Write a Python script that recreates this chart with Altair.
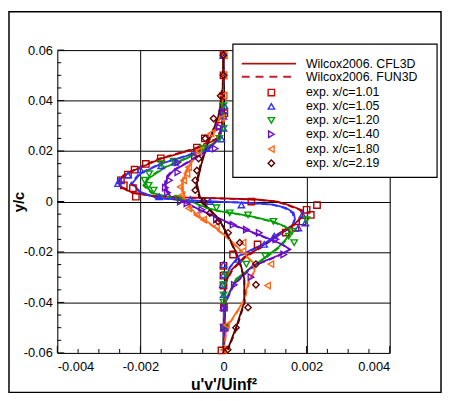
import altair as alt
import pandas as pd

# ---------------- data ----------------
stations = ["1.01", "1.05", "1.20", "1.40", "1.80", "2.19"]
colors = ["#d40000", "#3030ff", "#00a000", "#6a0dc8", "#ff6a1a", "#5c0000"]
line_colors = ["#b00000", "#3030ff", "#00a000", "#6a0dc8", "#ff6a1a", "#5c0000"]
shapes = ["square", "triangle-up", "triangle-down", "triangle-right", "triangle-left", "diamond"]

# experiments
exp101_x = [0.0, 0.0, 0.0, 0.00002, -0.0001, -0.00045, -0.00064, -0.00151, -0.00187, -0.00214, -0.0023, -0.00247, -0.0024, -0.00218, -0.00211, 0.00067, 0.00225, 0.0021, 0.002, 0.0019, 0.00173, 0.0015, 0.00082, 0.00023, 0.0, 0.0, 0.0, 0.00001, 0.00003, -0.00005]
exp101_y = [0.058, 0.050, 0.042, 0.035, 0.030, 0.025, 0.0214, 0.0171, 0.0149, 0.0126, 0.0107, 0.0084, 0.0064, 0.0053, 0.0019, 0.0, -0.0014, -0.0053, -0.0033, -0.0079, -0.0104, -0.0123, -0.017, -0.021, -0.0255, -0.0294, -0.0333, -0.042, -0.050, -0.059]
exp105_x = [0.0, 0.00002, 0.0, 0.0, -0.00005, -0.0004, -0.00116, -0.0015, -0.002, -0.0023, -0.0025, -0.00254, -0.00155, -0.0008, -0.00033, 0.00043, 0.0019, 0.00197, 0.0018, 0.00122, 0.00098, 0.00035, 0.0, 0.0, -0.00002, 0.0, 0.0, 0.00001]
exp105_y = [0.058, 0.038, 0.0338, 0.029, 0.0248, 0.021, 0.0155, 0.0142, 0.0126, 0.0105, 0.0084, 0.0071, 0.0019, 0.0008, 0.0, -0.0014, -0.0053, -0.0085, -0.0105, -0.0137, -0.017, -0.0229, -0.025, -0.029, -0.033, -0.037, -0.042, -0.050]
exp120_x = [0.0, 0.0, 0.0, -0.0001, -0.0005, -0.0012, -0.0015, -0.00179, -0.0019, -0.0018, -0.00168, -0.0011, -0.00017, 0.00015, 0.00059, 0.0012, 0.002, 0.00165, 0.00157, 0.0017, 0.001, 0.00055, 0.00005, 0.0, 0.0, 0.0, 0.0]
exp120_y = [0.038, 0.034, 0.029, 0.025, 0.021, 0.016, 0.015, 0.011, 0.0084, 0.0064, 0.0045, 0.0012, -0.0025, -0.0045, -0.0053, -0.0079, -0.0072, -0.0118, -0.0137, -0.0163, -0.0215, -0.0248, -0.029, -0.033, -0.037, -0.040, -0.050]
exp140_x = [0.0, -0.0001, -0.0002, -0.0007, -0.0011, -0.0011, -0.0013, -0.0014, -0.00135, -0.00104, -0.00088, -0.00052, -0.00017, 0.00023, 0.00055, 0.00086, 0.00126, 0.00145, 0.00066, 0.00026, 0.00002, 0.0]
exp140_y = [0.035, 0.0295, 0.021, 0.018, 0.0155, 0.0116, 0.0084, 0.0055, 0.0035, 0.0, -0.0007, -0.0033, -0.0072, -0.0092, -0.0111, -0.0124, -0.015, -0.021, -0.030, -0.033, -0.042, -0.050]
exp180_x = [0.0, 0.0, 0.0, -0.00005, -0.0003, -0.0006, -0.00084, -0.00088, -0.00096, -0.00104, -0.001, -0.00084, -0.00064, -0.00048, -0.00017, 0.00047, 0.00047, 0.00114, 0.00106, 0.00007, 0.0]
exp180_y = [0.058, 0.050, 0.042, 0.033, 0.027, 0.020, 0.0136, 0.011, 0.0084, 0.0058, 0.0025, -0.0027, -0.0053, -0.0072, -0.0098, -0.0163, -0.0196, -0.0248, -0.0333, -0.049, -0.0588]
exp219_x = [0.0, 0.0, -0.00007, -0.00024, -0.00044, -0.0006, -0.00064, -0.00068, -0.00068, -0.00048, -0.00033, -0.00013, 0.00011, 0.00039, 0.00078, 0.00078, 0.00059, 0.0003, 0.0001]
exp219_y = [0.058, 0.050, 0.0419, 0.0329, 0.025, 0.017, 0.0123, 0.0084, 0.0045, 0.0, -0.0046, -0.0079, -0.0124, -0.0163, -0.0248, -0.033, -0.042, -0.050, -0.0587]

# Wilcox2006 CFL3D
cfl101_y = [0.06, 0.04, 0.03, 0.025, 0.021, 0.017, 0.013, 0.0105, 0.0085, 0.006, 0.0035, 0.0022, 0.0016, 0.0012, 0.0008, 0.0, -0.0014, -0.0035, -0.006, -0.009, -0.013, -0.018, -0.022, -0.027, -0.032, -0.04, -0.06]
cfl101_x = [0.0, -0.00001, -0.00004, -0.00013, -0.00064, -0.0015, -0.00207, -0.00237, -0.0025, -0.00248, -0.0022, -0.0017, -0.001, 0.0, 0.0008, 0.0013, 0.00157, 0.0019, 0.0019, 0.0017, 0.0013, 0.0009, 0.0005, 0.0002, 0.00005, 0.00001, 0.0]
cfl105_y = [0.06, 0.04, 0.03, 0.025, 0.021, 0.018, 0.015, 0.011, 0.0072, 0.0038, 0.0014, 0.0005, 0.0, -0.0005, -0.0012, -0.0025, -0.0045, -0.007, -0.0098, -0.0137, -0.017, -0.0215, -0.026, -0.031, -0.038, -0.06]
cfl105_x = [0.0, -0.00001, -0.00003, -0.0001, -0.0004, -0.0009, -0.0015, -0.002, -0.0022, -0.002, -0.0016, -0.0009, -0.0002, 0.0006, 0.0012, 0.0015, 0.00169, 0.00172, 0.00166, 0.00126, 0.00094, 0.00038, 0.00015, 0.00005, 0.00001, 0.0]
cfl120_y = [0.06, 0.04, 0.03, 0.025, 0.021, 0.017, 0.0136, 0.0092, 0.0064, 0.0033, 0.0019, 0.0006, -0.0012, -0.0025, -0.0038, -0.0048, -0.006, -0.0079, -0.01, -0.0123, -0.015, -0.018, -0.0229, -0.0307, -0.04, -0.06]
cfl120_x = [0.0, -0.00001, -0.00003, -0.0001, -0.0004, -0.0009, -0.0014, -0.0018, -0.0019, -0.0017, -0.00135, -0.00088, -0.0006, -0.0004, -0.0001, 0.0003, 0.0007, 0.00118, 0.0015, 0.0016, 0.0015, 0.00133, 0.00094, 0.0003, 0.00002, 0.0]
cfl140_y = [0.06, 0.04, 0.03, 0.025, 0.02, 0.016, 0.0123, 0.0097, 0.0058, 0.0019, -0.0005, -0.0033, -0.006, -0.0092, -0.0137, -0.017, -0.019, -0.0215, -0.0255, -0.033, -0.04, -0.06]
cfl140_x = [0.0, -0.00001, -0.00003, -0.0001, -0.0004, -0.0008, -0.0012, -0.00135, -0.0014, -0.00128, -0.0009, -0.00057, -0.0002, 0.00023, 0.00094, 0.00142, 0.0016, 0.0013, 0.0007, 0.00023, 0.00005, 0.0]
cfl180_y = [0.06, 0.045, 0.035, 0.028, 0.023, 0.019, 0.0123, 0.0072, 0.0019, -0.0025, -0.0053, -0.009, -0.015, -0.02, -0.024, -0.0275, -0.0307, -0.0398, -0.05, -0.06]
cfl180_x = [0.0, -0.00001, -0.00005, -0.0002, -0.0004, -0.00064, -0.00088, -0.001, -0.00096, -0.0008, -0.00064, -0.0003, 0.00015, 0.00045, 0.0007, 0.00075, 0.00062, 0.00047, 0.00007, 0.0]
cfl219_y = [0.06, 0.045, 0.035, 0.028, 0.022, 0.015, 0.0071, 0.0019, -0.002, -0.0059, -0.01, -0.015, -0.02, -0.0255, -0.0307, -0.0398, -0.05, -0.0587]
cfl219_x = [0.0, -0.00002, -0.0001, -0.00025, -0.0004, -0.00053, -0.00064, -0.00057, -0.0004, -0.00017, 0.0, 0.00015, 0.0003, 0.00042, 0.0005, 0.0005, 0.0003, 0.0001]

# Wilcox2006 FUN3D
fun101_y = [0.06, 0.04, 0.03, 0.025, 0.021, 0.017, 0.013, 0.0105, 0.0085, 0.006, 0.0035, 0.0022, 0.0016, 0.0012, 0.0008, 0.0, -0.0014, -0.0035, -0.006, -0.009, -0.013, -0.018, -0.022, -0.027, -0.032, -0.04, -0.06]
fun101_x = [0.0, -0.00001, -0.00004, -0.00015, -0.0007, -0.00155, -0.0021, -0.0024, -0.00253, -0.0025, -0.00222, -0.00172, -0.0011, -0.0001, 0.0007, 0.00125, 0.00153, 0.00186, 0.00188, 0.00172, 0.00135, 0.00093, 0.00053, 0.00022, 0.00006, 0.00001, 0.0]
fun105_y = cfl105_y
fun105_x = [0.0, -0.00001, -0.00003, -0.00011, -0.00042, -0.00093, -0.00153, -0.00203, -0.00223, -0.00203, -0.00163, -0.00095, -0.00025, 0.00055, 0.00115, 0.00146, 0.00166, 0.0017, 0.00166, 0.0013, 0.00097, 0.0004, 0.00016, 0.00005, 0.00001, 0.0]
fun120_y = cfl120_y
fun120_x = [0.0, -0.00001, -0.00003, -0.00011, -0.00042, -0.00093, -0.00143, -0.00183, -0.00193, -0.00173, -0.00138, -0.0009, -0.00062, -0.00042, -0.00012, 0.00027, 0.00067, 0.00115, 0.00148, 0.0016, 0.00152, 0.00136, 0.00097, 0.00032, 0.00002, 0.0]
fun140_y = cfl140_y
fun140_x = [0.0, -0.00001, -0.00003, -0.00011, -0.00042, -0.00082, -0.00123, -0.00138, -0.00143, -0.0013, -0.00092, -0.00059, -0.00022, 0.0002, 0.0009, 0.0014, 0.0016, 0.00133, 0.00073, 0.00025, 0.00005, 0.0]
fun180_y = cfl180_y
fun180_x = [0.0, -0.00001, -0.00005, -0.00021, -0.00042, -0.00066, -0.0009, -0.00102, -0.00098, -0.00082, -0.00066, -0.00032, 0.00013, 0.00043, 0.00069, 0.00076, 0.00064, 0.00049, 0.00008, 0.0]
fun219_y = cfl219_y
fun219_x = [0.0, -0.00002, -0.00011, -0.00026, -0.00042, -0.00055, -0.00066, -0.00059, -0.00042, -0.00019, -0.00001, 0.00014, 0.00029, 0.00041, 0.0005, 0.00051, 0.00032, 0.00011]

x_major_ticks = [-0.004, -0.002, 0.0, 0.002, 0.004]
x_minor_ticks = [-0.0035, -0.003, -0.0025, -0.0015, -0.001, -0.0005, 0.0005, 0.001, 0.0015, 0.0025, 0.003, 0.0035]
y_major_ticks = [-0.06, -0.04, -0.02, 0.0, 0.02, 0.04, 0.06]
y_minor_ticks = [-0.055, -0.05, -0.045, -0.035, -0.03, -0.025, -0.015, -0.01, -0.005,
                 0.005, 0.01, 0.015, 0.025, 0.03, 0.035, 0.045, 0.05, 0.055]

legend_labels = ["Wilcox2006. CFL3D", "Wilcox2006. FUN3D", "exp. x/c=1.01", "exp. x/c=1.05",
                 "exp. x/c=1.20", "exp. x/c=1.40", "exp. x/c=1.80", "exp. x/c=2.19"]

# ---------------- tables ----------------
exp_sets = [(exp101_x, exp101_y), (exp105_x, exp105_y), (exp120_x, exp120_y),
            (exp140_x, exp140_y), (exp180_x, exp180_y), (exp219_x, exp219_y)]
cfl_sets = [(cfl101_x, cfl101_y), (cfl105_x, cfl105_y), (cfl120_x, cfl120_y),
            (cfl140_x, cfl140_y), (cfl180_x, cfl180_y), (cfl219_x, cfl219_y)]
fun_sets = [(fun101_x, fun101_y), (fun105_x, fun105_y), (fun120_x, fun120_y),
            (fun140_x, fun140_y), (fun180_x, fun180_y), (fun219_x, fun219_y)]

exp_rows = []
for s, (xs, ys) in zip(stations, exp_sets):
    for xv, yv in zip(xs, ys):
        exp_rows.append({"station": s, "x": xv, "y": yv})
exp_df = pd.DataFrame(exp_rows)

def line_table(sets):
    rows = []
    for s, (xs, ys) in zip(stations, sets):
        for i, (xv, yv) in enumerate(zip(xs, ys)):
            rows.append({"station": s, "i": i, "x": xv, "y": yv})
    return pd.DataFrame(rows)

cfl_df = line_table(cfl_sets)
fun_df = line_table(fun_sets)

W, H = 337, 307
FONT = "Liberation Sans"

xscale = alt.Scale(domain=[-0.004, 0.004], nice=False, zero=False)
yscale = alt.Scale(domain=[-0.06, 0.06], nice=False, zero=False)

xaxis = alt.Axis(values=x_major_ticks, grid=True, gridColor="black", gridWidth=1, gridOpacity=1,
                 ticks=False, domain=False, labelPadding=8, labelFontSize=13, labelFont=FONT,
                 labelColor="black",
                 labelExpr="datum.value == 0 ? '0' : replace(format(datum.value, '.3f'), '\u2212', '-')",
                 title="u'v'/Uinf\u00b2", titleFontSize=16, titleFont=FONT, titleFontWeight="bold",
                 titleColor="black", titleBaseline="alphabetic", titleY=37)
yaxis = alt.Axis(values=y_major_ticks, grid=True, gridColor="black", gridWidth=1, gridOpacity=1,
                 ticks=False, domain=False, labelPadding=5, labelFontSize=13, labelFont=FONT,
                 labelColor="black",
                 labelExpr="datum.value == 0 ? '0' : replace(format(datum.value, '.2f'), '\u2212', '-')",
                 title="y/c", titleFontSize=15, titleFont=FONT, titleFontWeight="bold",
                 titleColor="black", titleAngle=-90, titleX=-39, titleY=H / 2,
                 titleAlign="center", titleBaseline="middle")

color_scale = alt.Scale(domain=stations, range=colors)
lcolor_scale = alt.Scale(domain=stations, range=line_colors)
shape_scale = alt.Scale(domain=stations, range=shapes)

lines_cfl = alt.Chart(cfl_df).mark_line(strokeWidth=1.8).encode(
    x=alt.X("x:Q", scale=xscale, axis=xaxis),
    y=alt.Y("y:Q", scale=yscale, axis=yaxis),
    color=alt.Color("station:N", scale=lcolor_scale, legend=None),
    detail="station:N",
    order="i:Q",
)
lines_fun = alt.Chart(fun_df).mark_line(strokeWidth=1.8, strokeDash=[6, 4]).encode(
    x="x:Q", y="y:Q",
    color=alt.Color("station:N", scale=lcolor_scale, legend=None),
    detail="station:N",
    order="i:Q",
)
pts = alt.Chart(exp_df).mark_point(filled=False, size=42, strokeWidth=1.4, opacity=1).encode(
    x="x:Q", y="y:Q",
    color=alt.Color("station:N", scale=color_scale, legend=None),
    shape=alt.Shape("station:N", scale=shape_scale, legend=None),
)

xmaj = alt.Chart(pd.DataFrame({"v": x_major_ticks})).mark_rule(color="black", strokeWidth=1).encode(
    x="v:Q", y=alt.value(H), y2=alt.value(H - 7))
xmin = alt.Chart(pd.DataFrame({"v": x_minor_ticks})).mark_rule(color="black", strokeWidth=1).encode(
    x="v:Q", y=alt.value(H), y2=alt.value(H - 4))
ymaj = alt.Chart(pd.DataFrame({"v": y_major_ticks})).mark_rule(color="black", strokeWidth=1).encode(
    y="v:Q", x=alt.value(0), x2=alt.value(7))
ymin = alt.Chart(pd.DataFrame({"v": y_minor_ticks})).mark_rule(color="black", strokeWidth=1).encode(
    y="v:Q", x=alt.value(0), x2=alt.value(4))

one = pd.DataFrame({"k": [0]})
frame = alt.Chart(one).mark_rect(fill="white", fillOpacity=0, stroke="black", strokeWidth=1.5).encode(
    x=alt.value(-49), x2=alt.value(W + 52), y=alt.value(-39), y2=alt.value(H + 40))

# legend box and entries
leg_box = alt.Chart(one).mark_rect(fill="white", stroke="black", strokeWidth=1.2).encode(
    x=alt.value(178), x2=alt.value(385), y=alt.value(-6), y2=alt.value(129))
row_y = [13.7, 27, 43, 57, 71.3, 85.3, 100.3, 114.7]
legend_layers = [leg_box]
legend_layers.append(alt.Chart(one).mark_rule(color="#a01818", strokeWidth=2).encode(
    x=alt.value(187), x2=alt.value(242), y=alt.value(row_y[0])))
legend_layers.append(alt.Chart(one).mark_rule(color="#c8202a", strokeWidth=2, strokeDash=[8, 6]).encode(
    x=alt.value(187), x2=alt.value(242), y=alt.value(row_y[1])))
for k in range(6):
    legend_layers.append(alt.Chart(one).mark_point(filled=False, size=42, strokeWidth=1.4, opacity=1,
                                                   shape=shapes[k], color=colors[k]).encode(
        x=alt.value(217), y=alt.value(row_y[k + 2])))
for k, lab in enumerate(legend_labels):
    legend_layers.append(alt.Chart(pd.DataFrame({"label": [lab]})).mark_text(
        align="left", baseline="middle", fontSize=12.5, font=FONT, color="black").encode(
        x=alt.value(252), y=alt.value(row_y[k]), text="label:N"))

chart = alt.layer(
    lines_cfl, lines_fun, pts, xmaj, xmin, ymaj, ymin, frame, *legend_layers
).properties(
    width=W, height=H,
    autosize=alt.AutoSizeParams(type="none"),
    padding={"left": 50, "top": 40, "right": 53, "bottom": 42},
).configure_view(stroke="black", strokeWidth=2).configure(background="white")

chart.save("out.html", embed_options={"renderer": "svg", "actions": False})
